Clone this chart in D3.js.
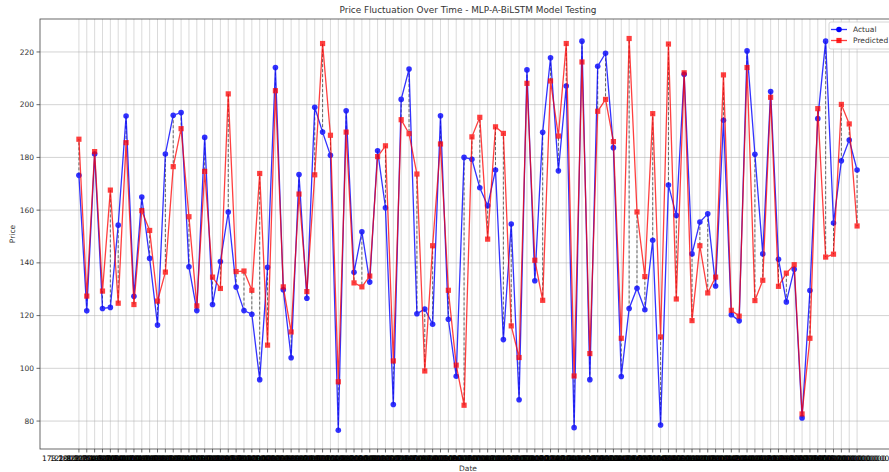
<!DOCTYPE html>
<html>
<head>
<meta charset="utf-8">
<script src="https://cdn.jsdelivr.net/npm/d3@7"></script>
<style>
	body { margin: 0; background: #fff; }
	svg { font-family: "DejaVu Sans", sans-serif; display: block; }
</style>
</head>
<body>
<svg id="plot" width="889" height="472"></svg>
<script>

// values (one per test sample)
const actual = [173.2, 121.8, 181.3, 122.7, 123.1, 154.3, 195.7, 127.3, 165.0, 141.7,
	116.4, 181.3, 196.0, 197.0, 138.5, 121.9, 187.6, 124.2, 140.5, 159.3,
	130.8, 121.9, 120.5, 95.7, 138.3, 214.1, 129.8, 104.0, 173.5, 126.6,
	199.0, 189.6, 180.8, 76.5, 197.7, 136.4, 151.8, 132.7, 182.5, 160.9,
	86.3, 202.0, 213.5, 120.7, 122.5, 116.7, 195.8, 118.6, 97.0, 180.0,
	179.3, 168.5, 161.7, 175.2, 110.9, 154.7, 88.1, 213.2, 133.2, 189.5,
	217.8, 174.9, 207.1, 77.5, 224.1, 95.7, 214.6, 219.5, 183.7, 96.9,
	122.7, 130.4, 122.2, 148.6, 78.5, 169.5, 158.0, 211.5, 143.4, 155.5,
	158.6, 131.2, 194.1, 120.3, 118.0, 220.4, 181.2, 143.4, 205.0, 141.4,
	125.2, 137.6, 81.2, 129.5, 194.7, 224.1, 155.1, 178.7, 186.6, 175.2];

const predicted = [186.9, 127.4, 182.2, 129.3, 167.6, 124.7, 185.6, 124.2, 159.8, 152.3,
	125.5, 136.5, 176.5, 190.9, 157.5, 123.7, 174.7, 134.6, 130.3, 204.1,
	136.7, 136.9, 129.6, 173.9, 108.8, 205.3, 130.9, 113.8, 166.1, 129.1,
	173.4, 223.2, 188.4, 94.9, 189.6, 132.4, 130.9, 135.0, 180.3, 184.4,
	102.8, 194.3, 189.0, 173.7, 99.0, 146.5, 185.1, 129.6, 101.2, 86.0,
	187.8, 195.2, 149.0, 191.6, 189.1, 116.1, 104.1, 208.1, 141.0, 125.8,
	209.0, 188.1, 223.2, 97.1, 216.2, 105.6, 197.5, 202.0, 186.0, 111.4,
	225.1, 159.3, 134.8, 196.6, 111.9, 223.0, 126.3, 212.1, 118.1, 146.5,
	128.6, 134.6, 211.3, 122.0, 119.8, 214.1, 125.7, 133.4, 202.8, 131.1,
	136.1, 139.3, 82.7, 111.4, 198.5, 142.2, 143.3, 200.1, 192.7, 154.0];

// the x tick labels are long strings that overlap into a smear
const xTickLabels = actual.map(v => v.toFixed(12));
const yTicks = [80, 100, 120, 140, 160, 180, 200, 220];
const seriesNames = ["Actual", "Predicted"];

class PricePlot {

	constructor(svg_element_id) {
		this.svg = d3.select('#' + svg_element_id);

		const left = 40, right = 896, top = 19, bottom = 449;

		const idx = d3.range(actual.length);

		// matplotlib style 5% margins on x
		const x = d3.scaleLinear()
			.domain([-4.95, actual.length - 1 + 4.95])
			.range([left, right]);

		const y = d3.scaleLinear()
			.domain([69.4, 232.5])
			.range([bottom, top]);

		this.svg.append('defs').append('clipPath')
			.attr('id', 'clip')
			.append('rect')
			.attr('x', left).attr('y', top)
			.attr('width', right - left).attr('height', bottom - top);

		// grid
		const grid = this.svg.append('g').attr('clip-path', 'url(#clip)');
		grid.selectAll('line.vg')
			.data(idx)
			.enter()
			.append('line')
			.attr('x1', d => x(d)).attr('x2', d => x(d))
			.attr('y1', top).attr('y2', bottom)
			.attr('stroke', '#b0b0b0')
			.attr('stroke-opacity', 0.6)
			.attr('stroke-width', 0.8);
		grid.selectAll('line.hg')
			.data(yTicks)
			.enter()
			.append('line')
			.attr('x1', left).attr('x2', right)
			.attr('y1', d => y(d)).attr('y2', d => y(d))
			.attr('stroke', '#b0b0b0')
			.attr('stroke-opacity', 0.7)
			.attr('stroke-width', 0.8);

		const plot_area = this.svg.append('g').attr('clip-path', 'url(#clip)');

		// dashed connectors between actual and predicted
		plot_area.selectAll('line.conn')
			.data(idx)
			.enter()
			.append('line')
			.attr('x1', d => x(d)).attr('x2', d => x(d))
			.attr('y1', d => y(actual[d])).attr('y2', d => y(predicted[d]))
			.attr('stroke', '#000')
			.attr('stroke-opacity', 0.55)
			.attr('stroke-width', 1)
			.attr('stroke-dasharray', '3,2');

		const line = d3.line()
			.x(d => x(d[0]))
			.y(d => y(d[1]));

		// Actual
		const gA = plot_area.append('g').attr('opacity', 0.8);
		gA.append('path')
			.datum(idx.map(i => [i, actual[i]]))
			.attr('d', line)
			.attr('fill', 'none')
			.attr('stroke', '#0000ff')
			.attr('stroke-width', 1.3);
		gA.selectAll('circle')
			.data(idx)
			.enter()
			.append('circle')
			.attr('cx', d => x(d))
			.attr('cy', d => y(actual[d]))
			.attr('r', 2.8)
			.attr('fill', '#0000ff');

		// Predicted
		const gP = plot_area.append('g').attr('opacity', 0.75);
		gP.append('path')
			.datum(idx.map(i => [i, predicted[i]]))
			.attr('d', line)
			.attr('fill', 'none')
			.attr('stroke', '#ff0000')
			.attr('stroke-width', 1.3);
		gP.selectAll('rect')
			.data(idx)
			.enter()
			.append('rect')
			.attr('x', d => x(d) - 2.6)
			.attr('y', d => y(predicted[d]) - 2.6)
			.attr('width', 5.2)
			.attr('height', 5.2)
			.attr('fill', '#ff0000');

		// spines
		this.svg.append('rect')
			.attr('x', left).attr('y', top)
			.attr('width', right - left).attr('height', bottom - top)
			.attr('fill', 'none')
			.attr('stroke', '#444')
			.attr('stroke-width', 0.8);

		// y axis
		const axis_y = this.svg.append('g');
		axis_y.selectAll('line')
			.data(yTicks)
			.enter()
			.append('line')
			.attr('x1', left - 3.5).attr('x2', left)
			.attr('y1', d => y(d)).attr('y2', d => y(d))
			.attr('stroke', '#444').attr('stroke-width', 0.8);
		axis_y.selectAll('text')
			.data(yTicks)
			.enter()
			.append('text')
			.attr('x', left - 6)
			.attr('y', d => y(d) + 2.6)
			.attr('text-anchor', 'end')
			.attr('font-size', '7.5px')
			.attr('fill', '#333')
			.text(d => d);

		// x axis
		const axis_x = this.svg.append('g');
		axis_x.selectAll('line')
			.data(idx)
			.enter()
			.append('line')
			.attr('x1', d => x(d)).attr('x2', d => x(d))
			.attr('y1', bottom).attr('y2', bottom + 3.5)
			.attr('stroke', '#444').attr('stroke-width', 0.8);
		axis_x.selectAll('text')
			.data(idx)
			.enter()
			.append('text')
			.attr('x', d => x(d))
			.attr('y', 461)
			.attr('text-anchor', 'middle')
			.attr('font-size', '7.5px')
			.attr('fill', '#000')
			.text(d => xTickLabels[d]);

		// labels
		this.svg.append('text')
			.attr('x', (left + right) / 2)
			.attr('y', 13)
			.attr('text-anchor', 'middle')
			.attr('font-size', '8.9px')
			.attr('fill', '#333')
			.text('Price Fluctuation Over Time - MLP-A-BiLSTM Model Testing');
		this.svg.append('text')
			.attr('x', (left + right) / 2)
			.attr('y', 471)
			.attr('text-anchor', 'middle')
			.attr('font-size', '7.5px')
			.attr('fill', '#333')
			.text('Date');
		this.svg.append('text')
			.attr('transform', 'translate(15,' + ((top + bottom) / 2) + ') rotate(-90)')
			.attr('text-anchor', 'middle')
			.attr('font-size', '7.5px')
			.attr('fill', '#333')
			.text('Price');

		// legend
		const legend = this.svg.append('g').attr('transform', 'translate(829,22)');
		legend.append('rect')
			.attr('width', 70).attr('height', 27)
			.attr('rx', 2)
			.attr('fill', '#fff').attr('fill-opacity', 0.85)
			.attr('stroke', '#ccc').attr('stroke-width', 0.8);
		const colors = ['#0000ff', '#ff0000'];
		seriesNames.forEach((name, i) => {
			const row = legend.append('g').attr('transform', 'translate(0,' + (7.5 + i * 11) + ')');
			row.append('line')
				.attr('x1', 2).attr('x2', 18)
				.attr('stroke', colors[i]).attr('stroke-width', 1.3)
				.attr('opacity', i ? 0.75 : 0.8);
			if (i == 0) {
				row.append('circle').attr('cx', 10).attr('r', 2.8).attr('fill', colors[i]);
			} else {
				row.append('rect').attr('x', 7.4).attr('y', -2.6)
					.attr('width', 5.2).attr('height', 5.2).attr('fill', colors[i]).attr('opacity', 0.85);
			}
			row.append('text')
				.attr('x', 24).attr('y', 2.7)
				.attr('font-size', '7.5px')
				.attr('fill', '#333')
				.text(name);
		});
	}
}

function whenDocumentLoaded(action) {
	if (document.readyState === "loading") {
		document.addEventListener("DOMContentLoaded", action);
	} else {
		action();
	}
}

whenDocumentLoaded(() => {
	let plot = new PricePlot('plot');
});
</script>
</body>
</html>
